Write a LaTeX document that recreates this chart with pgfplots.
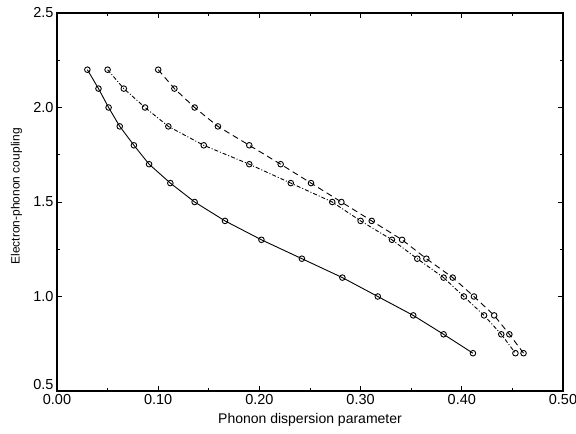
\documentclass[border=0pt]{standalone}
\usepackage{fontspec}
\setmainfont{Liberation Sans}
\usepackage{pgfplots}
\pgfplotsset{compat=1.18}
\begin{document}
\begin{tikzpicture}[font=\fontsize{13}{15}\selectfont]
\path[use as bounding box] (-57pt,-43pt) rectangle (519pt,391pt);
\begin{axis}[at={(0,0)}, anchor=south west, scale only axis,
  width=506pt, height=378pt,
  xmin=0, xmax=0.5, ymin=0.5, ymax=2.5,
  xtick={0,0.1,0.2,0.3,0.4,0.5}, ytick={1,1.5,2,2.5},
  yticklabels={1.0,1.5,2.0,2.5},
  extra y ticks={0.5}, extra y tick labels={0.5},
  extra y tick style={yticklabel style={yshift=6pt}},
  minor x tick num=1, minor y tick num=1,
  tick align=inside, major tick length=5pt, minor tick length=3pt,
  axis line style={line width=1.1pt},
  every tick/.style={line width=0.8pt, black},
  /pgf/number format/assume math mode=true,
  xticklabel style={/pgf/number format/.cd, fixed, fixed zerofill, precision=2},
  tick label style={font=\fontsize{14.5}{16}\selectfont},
  xlabel={Phonon dispersion parameter},
  ylabel={Electron-phonon coupling},
  xlabel style={at={(axis description cs:0.5,-0.077)}, anchor=center, font=\fontsize{14}{16}\selectfont},
  ylabel style={at={(axis description cs:-0.08,0.515)}, anchor=center, font=\fontsize{12}{14}\selectfont},
  every axis plot/.append style={black, line width=0.9pt, mark=o, mark size=2.8pt,
     mark options={solid, line width=0.9pt, fill=white}},
]
% solid
\addplot[solid] coordinates {
(0.030,2.2) (0.041,2.1) (0.051,2.0) (0.062,1.9) (0.076,1.8) (0.091,1.7)
(0.112,1.6) (0.136,1.5) (0.166,1.4) (0.202,1.3) (0.242,1.2) (0.282,1.1)
(0.317,1.0) (0.352,0.9) (0.382,0.8) (0.411,0.7)};
% dash-dot
\addplot[dash pattern=on 4pt off 2pt on 1pt off 2pt] coordinates {
(0.050,2.2) (0.066,2.1) (0.087,2.0) (0.110,1.9) (0.145,1.8) (0.190,1.7)
(0.231,1.6) (0.272,1.5) (0.300,1.4) (0.331,1.3) (0.356,1.2) (0.382,1.1)
(0.402,1.0) (0.422,0.9) (0.439,0.8) (0.453,0.7)};
% dashed
\addplot[dash pattern=on 6pt off 4pt] coordinates {
(0.100,2.2) (0.116,2.1) (0.136,2.0) (0.159,1.9) (0.190,1.8) (0.221,1.7)
(0.251,1.6) (0.281,1.5) (0.311,1.4) (0.341,1.3) (0.365,1.2) (0.391,1.1)
(0.412,1.0) (0.432,0.9) (0.447,0.8) (0.461,0.7)};
\end{axis}
\end{tikzpicture}
\end{document}
